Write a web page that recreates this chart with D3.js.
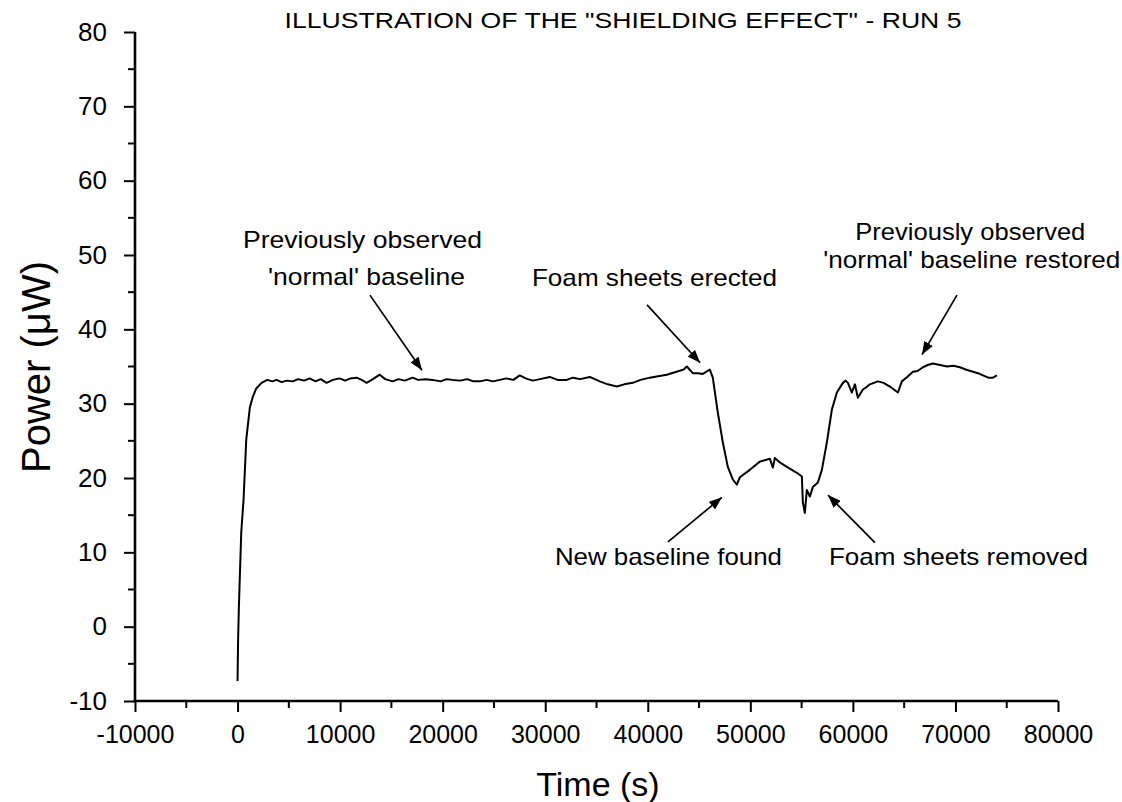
<!DOCTYPE html>
<html><head><meta charset="utf-8">
<script src="https://cdn.jsdelivr.net/npm/d3@7"></script>
<style>
html,body{margin:0;padding:0;background:#fff;}
svg{display:block;}
text{font-family:"Liberation Sans",Arial,Helvetica,sans-serif;fill:#000;}
</style></head>
<body>
<svg id="chart" width="1122" height="802"></svg>
<script>
// ---- data ----
const timeS = [0,50,130,360,585,850,1200,1463,1800,2341,2900,3400,3805,4300,4800,5366,5900,6500,7024,7600,8100,8683,9300,9951,10500,11000,11610,12100,12585,13200,13854,14400,15122,15700,16300,17073,17600,18300,19024,19800,20400,20976,21700,22400,23000,23610,24300,24900,25561,26200,26900,27512,28100,28780,29500,30439,31200,32098,32700,33400,34341,35317,36100,36976,37700,38537,39300,40195,41000,41854,42800,43500,43805,44390,44900,45366,46049,46341,46829,47317,47805,48293,48683,48976,49951,50927,51902,52195,52390,52878,53561,54537,55024,55122,55317,55512,55805,56098,56585,56976,57463,57951,58439,59024,59300,59512,59902,60195,60488,60976,61300,61659,62439,63000,63610,64390,64780,65300,65854,66300,66829,67300,67805,68500,69171,69800,70439,71000,71707,72200,72683,73200,73659,74049];
const powerUW = [-7.3,-2.0,2.7,12.7,17.1,25.2,29.5,30.8,32.0,32.8,33.2,33.0,33.2,32.9,33.1,33.0,33.3,33.1,33.4,33.0,33.3,32.8,33.2,33.4,33.1,33.4,33.5,33.2,32.8,33.3,33.9,33.3,33.0,33.3,33.1,33.5,33.2,33.3,33.2,33.0,33.3,33.2,33.1,33.3,33.0,33.0,33.2,33.0,33.2,33.4,33.2,33.8,33.4,33.1,33.3,33.6,33.2,33.2,33.5,33.3,33.6,33.0,32.6,32.3,32.6,32.8,33.2,33.5,33.7,33.9,34.3,34.6,35.0,34.1,34.1,34.0,34.6,33.5,28.8,24.8,21.5,19.8,19.1,20.1,21.1,22.2,22.6,21.4,22.7,22.1,21.5,20.7,20.2,16.7,15.3,18.4,17.5,18.8,19.4,21.1,24.8,29.2,31.5,32.8,33.1,32.8,31.5,32.6,30.8,31.9,32.2,32.6,33.0,32.8,32.3,31.5,33.0,33.6,34.3,34.4,34.9,35.2,35.4,35.2,35.0,35.1,34.9,34.6,34.3,34.1,33.8,33.5,33.5,33.8];

const xTicks = [-10000,0,10000,20000,30000,40000,50000,60000,70000,80000];
const yTicks = [-10,0,10,20,30,40,50,60,70,80];

const titleText = 'ILLUSTRATION OF THE "SHIELDING EFFECT" - RUN 5';
const xTitle = "Time (s)";
const yTitle = "Power (\u03BCW)";

// annotation text lines: [text, time, power]
const noteLines = [
  ["Previously observed", 12180, 50.95],
  ["'normal' baseline", 12570, 45.97],
  ["Foam sheets erected", 40650, 45.8],
  ["Previously observed", 71450, 52.0],
  ["'normal' baseline restored", 71600, 48.3],
  ["New baseline found", 42010, 8.3],
  ["Foam sheets removed", 70290, 8.3]
];
const noteWidths = [239, 197, 245, 230, 297, 227, 259];
// arrows: [fromTime, fromPower, toTime, toPower]
const arrows = [
  [12910, 44.6, 17980, 34.5],
  [39930, 43.3, 45100, 35.5],
  [70150, 44.6, 66740, 36.6],
  [41970, 11.4, 47230, 17.4],
  [62150, 11.3, 57570, 17.7]
];

// ---- drawing ----
const svg = d3.select("#chart");
const x = d3.scaleLinear().domain([-10000, 80000]).range([135, 1058]);
const y = d3.scaleLinear().domain([-10, 80]).range([701, 32]);
const fmt = d => String(d);  // plain hyphen minus, as in the original

svg.append("defs").append("marker")
  .attr("id","ah").attr("viewBox","0 0 13 10").attr("refX",13).attr("refY",5)
  .attr("markerWidth",13).attr("markerHeight",10).attr("markerUnits","userSpaceOnUse")
  .attr("orient","auto")
  .append("path").attr("d","M0,0 L13,5 L0,10 Z").attr("fill","#000");

const xMinor = d3.range(-10000, 80001, 5000).filter(v => v % 10000 !== 0);
const yMinor = d3.range(-10, 81, 5).filter(v => v % 10 !== 0);

const gx = svg.append("g").attr("transform", `translate(0,${y(-10)})`);
gx.call(d3.axisBottom(x).tickValues(xTicks).tickFormat(fmt).tickSize(11).tickPadding(13));
gx.select(".domain").remove();
gx.append("g").selectAll("line").data(xMinor).join("line")
  .attr("x1", d => x(d)).attr("x2", d => x(d)).attr("y1", 0).attr("y2", 7)
  .attr("stroke","#000").attr("stroke-width",2);
gx.selectAll(".tick line").attr("stroke-width",2);
gx.selectAll(".tick text").style("font-size","25px");

const gy = svg.append("g").attr("transform", `translate(${x(-10000)},0)`);
gy.call(d3.axisLeft(y).tickValues(yTicks).tickFormat(fmt).tickSize(11).tickPadding(17));
gy.select(".domain").remove();
gy.append("g").selectAll("line").data(yMinor).join("line")
  .attr("y1", d => y(d)).attr("y2", d => y(d)).attr("x1", 0).attr("x2", -7)
  .attr("stroke","#000").attr("stroke-width",2);
gy.selectAll(".tick line").attr("stroke-width",2);
gy.selectAll(".tick text").style("font-size","26px");

svg.append("line").attr("x1", x(-10000)-1.3).attr("x2", x(80000)).attr("y1", y(-10)).attr("y2", y(-10)).attr("stroke","#000").attr("stroke-width",2.6);
svg.append("line").attr("x1", x(-10000)).attr("x2", x(-10000)).attr("y1", y(-10)).attr("y2", y(80)).attr("stroke","#000").attr("stroke-width",2.6);

// data line
const pts = timeS.map((t,i)=>[t, powerUW[i]]);
svg.append("path").datum(pts)
  .attr("d", d3.line().x(d=>x(d[0])).y(d=>y(d[1])))
  .attr("fill","none").attr("stroke","#000").attr("stroke-width",2).attr("stroke-linejoin","round");

// annotations
svg.append("g").selectAll("text").data(noteLines).join("text")
  .attr("x", d => x(d[1])).attr("y", d => y(d[2]))
  .attr("text-anchor","middle").style("font-size","24px")
  .attr("textLength", (d,i) => noteWidths[i]).attr("lengthAdjust","spacingAndGlyphs")
  .text(d => d[0]);

svg.append("g").selectAll("line").data(arrows).join("line")
  .attr("x1", d => x(d[0])).attr("y1", d => y(d[1]))
  .attr("x2", d => x(d[2])).attr("y2", d => y(d[3]))
  .attr("stroke","#000").attr("stroke-width",1.7).attr("marker-end","url(#ah)");

// titles
svg.append("text").attr("x", 623).attr("y", 28).attr("text-anchor","middle")
  .style("font-size","22px").attr("textLength",677).attr("lengthAdjust","spacingAndGlyphs").text(titleText);
svg.append("text").attr("x", 598).attr("y", 796).attr("text-anchor","middle")
  .style("font-size","34px").text(xTitle);
svg.append("text").attr("transform","translate(50,367) rotate(-90)").attr("text-anchor","middle")
  .style("font-size","40px").text(yTitle);
</script>
</body></html>
